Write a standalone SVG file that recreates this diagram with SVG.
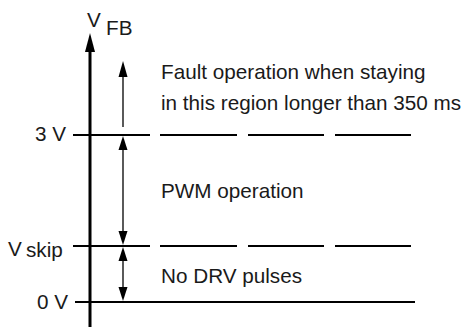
<svg xmlns="http://www.w3.org/2000/svg" width="464" height="329" viewBox="0 0 464 329">
<style>
text{font-family:"Liberation Sans",Arial,Helvetica,sans-serif;font-size:20.7px;fill:#1a1a1a}
.lvl{stroke:#000;stroke-width:2.2;fill:none}
.ax{stroke:#000;stroke-width:3;fill:none}
.dim{stroke:#000;stroke-width:1.3;fill:none}
.head{fill:#000}
</style>
<rect width="464" height="329" fill="#fff"/>
<g id="axis">
<line class="ax" x1="90" y1="50" x2="90" y2="327"/>
<polygon class="head" points="90,33 85,52 95,52"/>
<text x="87" y="27">V</text>
<text x="106" y="35">FB</text>
</g>
<g id="level-3V">
<line class="lvl" x1="73" y1="135" x2="150" y2="135"/>
<line class="lvl" x1="160" y1="135" x2="237" y2="135"/>
<line class="lvl" x1="248" y1="135" x2="324" y2="135"/>
<line class="lvl" x1="335" y1="135" x2="411" y2="135"/>
<text x="66" y="141" text-anchor="end">3 V</text>
</g>
<g id="level-vskip">
<line class="lvl" x1="73" y1="246" x2="150" y2="246"/>
<line class="lvl" x1="160" y1="246" x2="237" y2="246"/>
<line class="lvl" x1="248" y1="246" x2="324" y2="246"/>
<line class="lvl" x1="335" y1="246" x2="411" y2="246"/>
<text x="8" y="255.5">V</text>
<text x="26" y="257">skip</text>
</g>
<g id="level-0V">
<line class="lvl" x1="75" y1="302" x2="415" y2="302"/>
<text x="68" y="309" text-anchor="end">0 V</text>
</g>
<g id="connectors">
<line class="dim" x1="123" y1="74" x2="123" y2="127"/>
<polygon class="head" points="123,61 118.5,77 127.5,77"/>
<line class="dim" x1="123" y1="147" x2="123" y2="234"/>
<polygon class="head" points="123,136 118.5,150 127.5,150"/>
<polygon class="head" points="123,245 118.5,231 127.5,231"/>
<line class="dim" x1="123" y1="258" x2="123" y2="290"/>
<polygon class="head" points="123,247 118.5,261 127.5,261"/>
<polygon class="head" points="123,301 118.5,287 127.5,287"/>
</g>
<g id="region-fault">
<text x="161" y="79">Fault operation when staying</text>
<text x="161" y="110">in this region longer than 350 ms</text>
</g>
<g id="region-pwm">
<text x="161" y="198">PWM operation</text>
</g>
<g id="region-nodrv">
<text x="161" y="283">No DRV pulses</text>
</g>
</svg>
